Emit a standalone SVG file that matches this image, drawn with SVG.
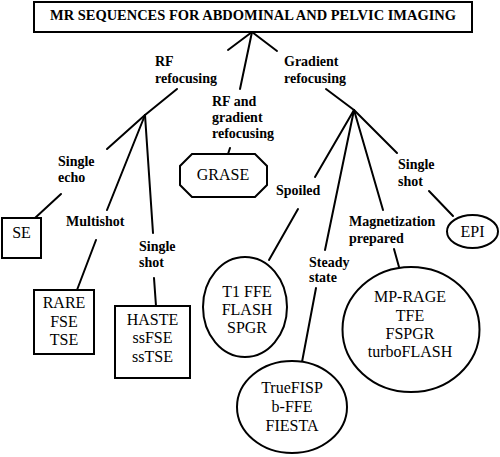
<svg xmlns="http://www.w3.org/2000/svg" width="500" height="457" viewBox="0 0 500 457" font-family="Liberation Serif, Tinos, Times New Roman, Times, DejaVu Serif, serif">
<style>
.shape{fill:#fff;stroke:#000;stroke-width:2}
.conn line{stroke:#000;stroke-width:2;stroke-linecap:round}
text{font-family:"Liberation Serif",Tinos,"Times New Roman",Times,"DejaVu Serif",serif}
.lbl{font-weight:bold;font-size:14px;fill:#000}
.nt{font-size:16px;fill:#000;text-anchor:middle}
</style>
<rect width="500" height="457" fill="#fff"/>
<g id="connectors" class="conn">
<line x1="252" y1="32" x2="228" y2="50"/>
<line x1="252" y1="32" x2="240" y2="89"/>
<line x1="252" y1="32" x2="277" y2="51"/>
<line x1="177" y1="89" x2="145" y2="115"/>
<line x1="145" y1="115" x2="107" y2="149"/>
<line x1="145" y1="115" x2="107" y2="210"/>
<line x1="145" y1="115" x2="153" y2="233"/>
<line x1="61" y1="194" x2="35" y2="218"/>
<line x1="96" y1="240" x2="77" y2="290"/>
<line x1="154" y1="278" x2="156" y2="306"/>
<line x1="230" y1="148" x2="228" y2="154"/>
<line x1="326" y1="89" x2="354" y2="110"/>
<line x1="354" y1="110" x2="397" y2="153"/>
<line x1="354" y1="110" x2="315" y2="177"/>
<line x1="354" y1="110" x2="325" y2="250"/>
<line x1="354" y1="110" x2="383" y2="210"/>
<line x1="298" y1="209" x2="269" y2="260"/>
<line x1="316" y1="288" x2="302" y2="362"/>
<line x1="394" y1="249" x2="399" y2="267"/>
<line x1="429" y1="191" x2="453" y2="216"/>
</g>
<g id="title">
<rect class="shape" x="34" y="2" width="438" height="30"/>
<text class="lbl" x="253" y="20" text-anchor="middle" textLength="406" lengthAdjust="spacingAndGlyphs">MR SEQUENCES FOR ABDOMINAL AND PELVIC IMAGING</text>
</g>
<g id="labels">
<text class="lbl" x="155" y="66">RF</text>
<text class="lbl" x="155" y="83">refocusing</text>
<text class="lbl" x="284" y="66">Gradient</text>
<text class="lbl" x="284" y="83">refocusing</text>
<text class="lbl" x="212" y="106">RF and</text>
<text class="lbl" x="212" y="122">gradient</text>
<text class="lbl" x="212" y="138">refocusing</text>
<text class="lbl" x="58" y="166">Single</text>
<text class="lbl" x="58" y="182">echo</text>
<text class="lbl" x="66" y="226">Multishot</text>
<text class="lbl" x="139" y="251">Single</text>
<text class="lbl" x="139" y="267">shot</text>
<text class="lbl" x="276" y="195">Spoiled</text>
<text class="lbl" x="309" y="267">Steady</text>
<text class="lbl" x="309" y="282">state</text>
<text class="lbl" x="349" y="226">Magnetization</text>
<text class="lbl" x="349" y="243">prepared</text>
<text class="lbl" x="398" y="169">Single</text>
<text class="lbl" x="398" y="186">shot</text>
</g>
<g id="se">
<rect class="shape" x="2" y="218" width="39" height="40"/>
<text class="nt" x="21.5" y="238">SE</text>
</g>
<g id="rare">
<rect class="shape" x="34" y="290" width="60" height="64"/>
<text class="nt" x="64" y="308">RARE</text>
<text class="nt" x="64" y="327">FSE</text>
<text class="nt" x="64" y="345">TSE</text>
</g>
<g id="haste">
<rect class="shape" x="115" y="306" width="75" height="72"/>
<text class="nt" x="152.5" y="325">HASTE</text>
<text class="nt" x="152.5" y="343">ssFSE</text>
<text class="nt" x="152.5" y="362">ssTSE</text>
</g>
<g id="grase">
<polygon class="shape" points="192,154 255,154 267,166 267,185 255,197 192,197 180,185 180,166"/>
<text class="nt" x="223" y="180">GRASE</text>
</g>
<g id="t1ffe">
<ellipse class="shape" cx="245" cy="307" rx="42" ry="50"/>
<text class="nt" x="247" y="297">T1 FFE</text>
<text class="nt" x="247" y="315">FLASH</text>
<text class="nt" x="247" y="333">SPGR</text>
</g>
<g id="truefisp">
<ellipse class="shape" cx="292" cy="407" rx="55" ry="46"/>
<text class="nt" x="292" y="393">TrueFISP</text>
<text class="nt" x="292" y="412">b-FFE</text>
<text class="nt" x="292" y="431">FIESTA</text>
</g>
<g id="mprage">
<ellipse class="shape" cx="411" cy="329.5" rx="68.5" ry="62.5"/>
<text class="nt" x="410" y="302">MP-RAGE</text>
<text class="nt" x="410" y="321">TFE</text>
<text class="nt" x="410" y="339">FSPGR</text>
<text class="nt" x="410" y="357">turboFLASH</text>
</g>
<g id="epi">
<ellipse class="shape" cx="472.5" cy="231.5" rx="25.5" ry="16.5"/>
<text class="nt" x="472.5" y="237">EPI</text>
</g>
</svg>
